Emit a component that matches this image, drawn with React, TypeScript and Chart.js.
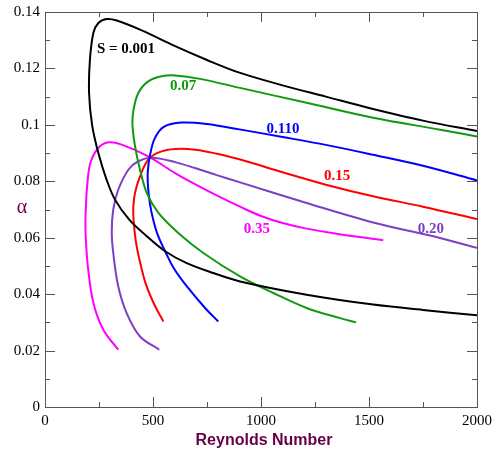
import React, { useEffect, useRef } from "react";
import { Chart, registerables } from "chart.js";

Chart.register(...registerables);

// Neutral curves: Reynolds number (x) vs alpha (y), lower branch -> nose -> upper branch
const curveS0001: [number, number][] = [
  [2000, 0.0325], [1750, 0.0344], [1519, 0.0363], [1211, 0.0398], [903, 0.0445],
  [779, 0.0475], [656, 0.0510], [556, 0.0552], [467, 0.0608], [390, 0.0664],
  [324, 0.0735], [285, 0.0806], [247, 0.0900], [218, 0.1000], [204, 0.1113],
  [208, 0.1231], [224, 0.1326], [247, 0.1361], [285, 0.1375], [332, 0.1370],
  [448, 0.1335], [600, 0.1280], [750, 0.1230], [900, 0.1185], [1100, 0.1140],
  [1300, 0.1100], [1500, 0.1060], [1750, 0.1015], [2000, 0.0978],
];
const curveS007: [number, number][] = [
  [1440, 0.0300], [1366, 0.0315], [1211, 0.0351], [1057, 0.0404], [903, 0.0463],
  [733, 0.0546], [617, 0.0617], [525, 0.0688], [471, 0.0759], [440, 0.0841],
  [417, 0.0924], [405, 0.1000], [410, 0.1054], [432, 0.1113], [478, 0.1154],
  [540, 0.1172], [602, 0.1175], [718, 0.1163], [903, 0.1131], [1211, 0.1078],
  [1519, 0.1025], [1829, 0.0983], [2000, 0.0959],
];
const curveS0110: [number, number][] = [
  [802, 0.0303], [741, 0.0351], [656, 0.0428], [600, 0.0487], [556, 0.0552],
  [522, 0.0610], [501, 0.0664], [486, 0.0720], [477, 0.0780], [476, 0.0835],
  [486, 0.0892], [508, 0.0952], [550, 0.0993], [633, 0.1008], [750, 0.1003],
  [900, 0.0984], [1100, 0.0957], [1300, 0.0929], [1519, 0.0894], [1750, 0.0855],
  [2000, 0.0803],
];
const curveS015: [number, number][] = [
  [548, 0.0303], [505, 0.0365], [465, 0.0440], [438, 0.0520], [420, 0.0590],
  [410, 0.0664], [409, 0.0710], [417, 0.0760], [440, 0.0817], [478, 0.0877],
  [540, 0.0906], [633, 0.0915], [750, 0.0905], [900, 0.0878], [1100, 0.0832],
  [1300, 0.0788], [1519, 0.0747], [1750, 0.0710], [2000, 0.0666],
];
const curveS020: [number, number][] = [
  [529, 0.0203], [440, 0.0250], [378, 0.0333], [339, 0.0428], [316, 0.0546],
  [309, 0.0620], [316, 0.0700], [339, 0.0770], [386, 0.0841], [432, 0.0871],
  [494, 0.0883], [602, 0.0868], [694, 0.0847], [795, 0.0822], [903, 0.0796],
  [1211, 0.0723], [1519, 0.0654], [1829, 0.0599], [2000, 0.0564],
];
const curveS035: [number, number][] = [
  [339, 0.0203], [270, 0.0274], [224, 0.0369], [200, 0.0487], [190, 0.0580],
  [187, 0.0650], [190, 0.0720], [195, 0.0782], [210, 0.0865], [247, 0.0918],
  [293, 0.0938], [355, 0.0930], [478, 0.0888], [602, 0.0829], [694, 0.0790],
  [795, 0.0750], [903, 0.0710], [1000, 0.0677], [1100, 0.0652], [1200, 0.0634],
  [1350, 0.0614], [1566, 0.0591],
];

const seriesNames = ["S = 0.001", "0.07", "0.110", "0.15", "0.20", "0.35"];
const seriesColors = ["#000000", "#119911", "#0000ff", "#ff0000", "#7e3fc4", "#ff00ff"];
const seriesCurves = [curveS0001, curveS007, curveS0110, curveS015, curveS020, curveS035];
// label anchor positions in data coordinates (Re, alpha)
const labelX = [375, 640, 1102, 1352, 1787, 981];
const labelY = [0.1268, 0.1136, 0.0985, 0.0817, 0.0630, 0.0630];

const xMajorTicks = [0, 500, 1000, 1500, 2000];
const xMinorTicks = [250, 750, 1250, 1750];
const yMajorTicks = [0, 0.02, 0.04, 0.06, 0.08, 0.1, 0.12, 0.14];
const yMinorTicks = [0.01, 0.03, 0.05, 0.07, 0.09, 0.11, 0.13];

const xTitle = "Reynolds Number";
const yTitle = "α";

export default function App() {
  const ref = useRef<HTMLCanvasElement | null>(null);

  useEffect(() => {
    document.body.style.margin = "0";
    const canvas = ref.current;
    if (!canvas) return;

    const framePlugin = {
      id: "framePlugin",
      afterDraw(chart: any) {
        const ctx = chart.ctx;
        const { left, right, top, bottom } = chart.chartArea;
        const xs = chart.scales.x;
        const ys = chart.scales.y;
        ctx.save();
        // curve labels
        ctx.textAlign = "center";
        ctx.textBaseline = "middle";
        ctx.font = "bold 15px 'Liberation Serif', serif";
        seriesNames.forEach((name, i) => {
          ctx.fillStyle = seriesColors[i];
          ctx.fillText(name, xs.getPixelForValue(labelX[i]), ys.getPixelForValue(labelY[i]));
        });
        // frame + inward ticks
        ctx.fillStyle = "#555555";
        const L = Math.round(left), R = Math.round(right), T = Math.round(top), B = Math.round(bottom);
        ctx.fillRect(L, T, R - L + 1, 1);
        ctx.fillRect(L, B, R - L + 1, 1);
        ctx.fillRect(L, T, 1, B - T + 1);
        ctx.fillRect(R, T, 1, B - T + 1);
        const major = 10;
        const minor = 5;
        const vtick = (v: number, len: number) => {
          const px = Math.round(xs.getPixelForValue(v));
          ctx.fillRect(px, B - len, 1, len);
          ctx.fillRect(px, T, 1, len);
        };
        const htick = (v: number, len: number) => {
          const py = Math.round(ys.getPixelForValue(v));
          ctx.fillRect(L, py, len, 1);
          ctx.fillRect(R - len, py, len, 1);
        };
        xMajorTicks.forEach((v) => vtick(v, major));
        xMinorTicks.forEach((v) => vtick(v, minor));
        yMajorTicks.forEach((v) => htick(v, major));
        yMinorTicks.forEach((v) => htick(v, minor));
        // axis titles
        ctx.fillStyle = "#660044";
        ctx.font = "bold 16px 'Liberation Sans', sans-serif";
        ctx.textAlign = "center";
        ctx.textBaseline = "middle";
        ctx.fillText(xTitle, (left + right) / 2 + 3, 441);
        ctx.font = "20px 'Liberation Serif', serif";
        ctx.fillText(yTitle, 22, (top + bottom) / 2 - 2);
        ctx.restore();
      },
    };

    const tickFont = { family: "'Liberation Serif', serif", size: 15 };

    const chart = new Chart(canvas, {
      type: "scatter",
      data: {
        datasets: seriesCurves.map((c, i) => ({
          label: seriesNames[i],
          data: c.map(([x, y]) => ({ x, y })),
          showLine: true,
          borderColor: seriesColors[i],
          backgroundColor: seriesColors[i],
          borderWidth: 2,
          pointRadius: 0,
          tension: 0.35,
          fill: false,
        })),
      },
      options: {
        animation: false,
        responsive: false,
        devicePixelRatio: 1,
        layout: { padding: { top: 12, right: 17, left: 0, bottom: 0 } },
        plugins: { legend: { display: false }, tooltip: { enabled: false } },
        scales: {
          x: {
            type: "linear",
            min: 0,
            max: 2000,
            grid: { display: false, drawTicks: false },
            border: { display: false },
            ticks: {
              stepSize: 500,
              padding: 5,
              color: "#000",
              maxRotation: 0,
              font: tickFont,
              callback: (v: any) => String(Number(v)),
            },
            afterFit: (s: any) => {
              s.height = 47;
              s.paddingLeft = 0;
              s.paddingRight = 0;
            },
          },
          y: {
            type: "linear",
            min: 0,
            max: 0.14,
            grid: { display: false, drawTicks: false },
            border: { display: false },
            ticks: {
              stepSize: 0.02,
              padding: 5,
              color: "#000",
              font: tickFont,
              callback: (v: any) => String(+Number(v).toFixed(2)),
            },
            afterFit: (s: any) => {
              s.width = 45;
              s.paddingTop = 0;
              s.paddingBottom = 0;
            },
          },
        },
      },
      plugins: [framePlugin],
    });
    return () => chart.destroy();
  }, []);

  return (
    <div style={{ width: 494, height: 454 }}>
      <canvas ref={ref} width={494} height={454} style={{ display: "block" }} />
    </div>
  );
}
